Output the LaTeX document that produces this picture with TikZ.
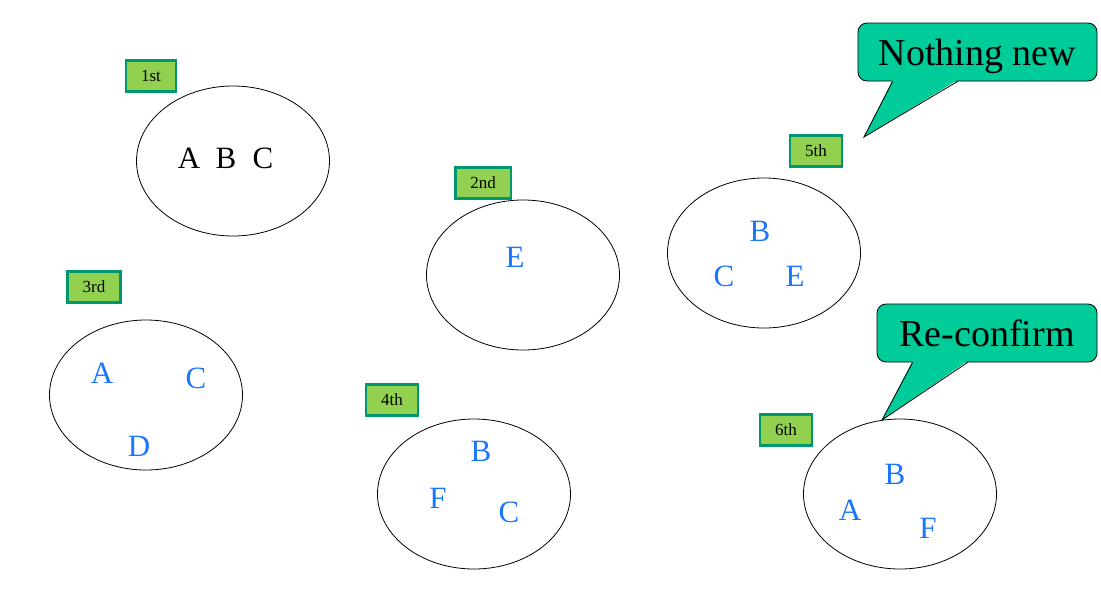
\documentclass[tikz,border=0pt]{standalone}
\usepackage{fontspec}
\setmainfont{Liberation Serif}
\usetikzlibrary{shapes.geometric,calc}
\definecolor{tagfill}{RGB}{146,208,80}
\definecolor{tagline}{RGB}{0,150,110}
\definecolor{notefill}{RGB}{0,204,153}
\definecolor{itemblue}{RGB}{26,117,255}
\begin{document}
\begin{tikzpicture}[x=1pt,y=-1pt,
    set/.style={draw,ellipse,line width=0.8pt,minimum width=193,minimum height=150,inner sep=0},
    tag/.style={draw=tagline,fill=tagfill,line width=2.5pt,inner xsep=15,inner ysep=0,minimum height=31,font=\fontsize{17}{17}\selectfont},
    item/.style={text=itemblue,inner sep=0,font=\fontsize{31}{31}\selectfont},
    note/.style={draw,fill=notefill,rounded corners=9,line width=0.8pt,inner sep=0,text depth=0pt,font=\fontsize{38}{38}\selectfont}]
    \useasboundingbox (0,0) rectangle (1101,590);

    \node[set] (s1) at (233,161) {};
    \node[tag] (t1) at (151,76) {1st};
    \node[item,text=black] (a1) at (189,158) {A};
    \node[item,text=black] (b1) at (226,158) {B};
    \node[item,text=black] (c1) at (263,158) {C};

    \node[set] (s2) at (523,275) {};
    \node[tag] (t2) at (483,183) {2nd};
    \node[item] (e2) at (515,257) {E};

    \node[set] (s3) at (146,395) {};
    \node[tag] (t3) at (94,287) {3rd};
    \node[item] (a3) at (102,373) {A};
    \node[item] (c3) at (196,378) {C};
    \node[item] (d3) at (139,446) {D};

    \node[set] (s4) at (474,494) {};
    \node[tag] (t4) at (392,400) {4th};
    \node[item] (b4) at (481,451) {B};
    \node[item] (f4) at (438,498) {F};
    \node[item] (c4) at (509,512) {C};

    \node[set] (s5) at (764,253) {};
    \node[tag] (t5) at (816,151) {5th};
    \node[item] (b5) at (760,231) {B};
    \node[item] (c5) at (724,276) {C};
    \node[item] (e5) at (795,276) {E};

    \node[set] (s6) at (900,494) {};
    \node[tag] (t6) at (786,430) {6th};
    \node[item] (b6) at (895,474) {B};
    \node[item] (a6) at (850,510) {A};
    \node[item] (f6) at (928,528) {F};

    \node[note,minimum width=239,minimum height=58] (n5) at (977.5,52) {Nothing new};
    \coordinate (tip5) at (864,137);
    \fill[notefill] (tip5) -- ($(n5.south west)+(35,-1.5)$) -- ($(n5.south west)+(100,-1.5)$) -- cycle;
    \draw[line width=0.8pt] ($(n5.south west)+(35,0)$) -- (tip5) -- ($(n5.south west)+(100,0)$);

    \node[note,minimum width=220,minimum height=58] (n6) at (987,333) {Re-confirm};
    \coordinate (tip6) at (882,420);
    \fill[notefill] (tip6) -- ($(n6.south west)+(36,-1.5)$) -- ($(n6.south west)+(91,-1.5)$) -- cycle;
    \draw[line width=0.8pt] ($(n6.south west)+(36,0)$) -- (tip6) -- ($(n6.south west)+(91,0)$);
\end{tikzpicture}
\end{document}
